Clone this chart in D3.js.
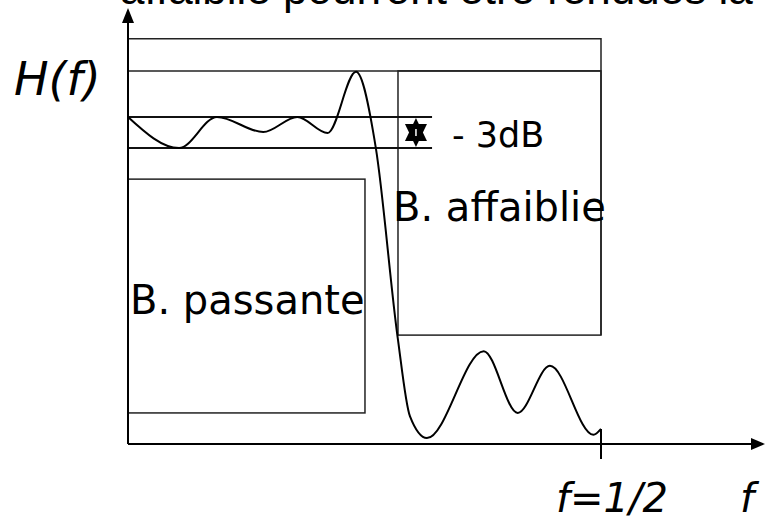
<!DOCTYPE html>
<html>
<head>
<meta charset="utf-8">
<script src="https://cdn.jsdelivr.net/npm/d3@7"></script>
<style>
  html, body { margin: 0; padding: 0; background: #fff; }
  svg text { font-family: "Comic Sans MS", "DejaVu Sans", sans-serif; fill: #000; }
</style>
</head>
<body>
<svg id="chart"></svg>
<script>
// Frequency response |H(f)| (passband level = 1)
const freq = [0, 0.054, 0.094, 0.143, 0.179, 0.211, 0.241,
              0.262, 0.285, 0.298, 0.316, 0.376, 0.412, 0.446, 0.492, 0.5];
const gain = [1.0, 0.905, 1.0, 0.954, 1.0, 0.951, 1.138,
              0.905, 0.327, 0.085, 0.018, 0.284, 0.095, 0.239, 0.028, 0.046];

// Template levels
const rippleLevels = [1.0, 0.905];      // -3dB ripple band
const peakLevel = 1.141;                // top of stopband template
const frameTop = 1.239;
const passBand = {f: [0, 0.2505], g: [0.095, 0.81]};
const stopBand = {f: [0.2854, 0.5], g: [0.333, 1.141]};
const rippleEnd = 0.3214;
const markerF = 0.3044;

const labels = {
  title: "affaiblie pourront être rendues la",
  yAxis: "H(f)",
  xAxis: "f",
  nyquist: "f=1/2",
  ripple: "- 3dB",
  pass: "B. passante",
  stop: "B. affaiblie"
};

const width = 765, height = 521;
const svg = d3.select("#chart").attr("width", width).attr("height", height);

const x = d3.scaleLinear().domain([0, 0.5]).range([128, 601]);
const y = d3.scaleLinear().domain([0, 1]).range([444, 117]);

// Title fragment cut at the top
svg.append("text")
  .attr("x", 120).attr("y", 4)
  .style("font-family", "'Liberation Sans', Arial, sans-serif")
  .style("font-size", "44px")
  .text(labels.title);

const frame = svg.append("g").attr("fill", "none").attr("stroke", "#222").attr("stroke-width", 1.5);

// outer frame top + right side
frame.append("path")
  .attr("d", `M${x(0)},${y(frameTop)}H${x(0.5)}V${y(stopBand.g[0])}`);
// peak level line
frame.append("line")
  .attr("x1", x(0)).attr("x2", x(0.5))
  .attr("y1", y(peakLevel)).attr("y2", y(peakLevel));
// stopband box
frame.append("rect")
  .attr("x", x(stopBand.f[0])).attr("y", y(stopBand.g[1]))
  .attr("width", x(stopBand.f[1]) - x(stopBand.f[0]))
  .attr("height", y(stopBand.g[0]) - y(stopBand.g[1]));
// passband box
frame.append("rect")
  .attr("x", x(passBand.f[0])).attr("y", y(passBand.g[1]))
  .attr("width", x(passBand.f[1]) - x(passBand.f[0]))
  .attr("height", y(passBand.g[0]) - y(passBand.g[1]));

// ripple band lines
svg.selectAll(".ripple")
  .data(rippleLevels)
  .enter().append("line")
  .attr("class", "ripple")
  .attr("x1", x(0)).attr("x2", x(rippleEnd))
  .attr("y1", d => y(d)).attr("y2", d => y(d))
  .attr("stroke", "#111").attr("stroke-width", 2);

// -3dB marker (double arrow)
const mx = x(markerF), mTop = y(rippleLevels[0]) + 1, mBot = y(rippleLevels[1]) - 1;
svg.append("path")
  .attr("d", `M${mx},${mTop}L${mx - 11},${mTop + 23}L${mx + 11},${mTop + 23}Z`)
  .attr("fill", "#000");
svg.append("path")
  .attr("d", `M${mx},${mBot}L${mx - 11},${mBot - 23}L${mx + 11},${mBot - 23}Z`)
  .attr("fill", "#000");
svg.append("line")
  .attr("x1", mx).attr("x2", mx).attr("y1", mTop + 11).attr("y2", mBot - 11)
  .attr("stroke", "#fff").attr("stroke-width", 1.5);

// axes
const axes = svg.append("g").attr("stroke", "#000").attr("stroke-width", 2);
axes.append("line").attr("x1", x(0)).attr("x2", x(0)).attr("y1", y(0)).attr("y2", 20);
axes.append("line").attr("x1", x(0)).attr("x2", 755).attr("y1", y(0)).attr("y2", y(0));
axes.append("line").attr("x1", x(0.5)).attr("x2", x(0.5)).attr("y1", y(0) - 15).attr("y2", y(0) + 15);
svg.append("path")
  .attr("d", `M${x(0)},8L${x(0) - 6},23L${x(0) + 6},23Z`).attr("fill", "#000");
svg.append("path")
  .attr("d", `M765,${y(0)}L751,${y(0) - 6}L751,${y(0) + 6}Z`).attr("fill", "#000");

// response curve
const line = d3.line()
  .x((d, i) => x(freq[i]))
  .y(d => y(d))
  .curve(d3.curveMonotoneX);
svg.append("path")
  .datum(gain)
  .attr("d", line)
  .attr("fill", "none")
  .attr("stroke", "#000")
  .attr("stroke-width", 2);

// labels
svg.append("text").attr("x", 14).attr("y", 95)
  .style("font-size", "46px").style("font-style", "italic").text(labels.yAxis);
svg.append("text").attr("x", 452).attr("y", 147)
  .style("font-size", "35px").text(labels.ripple);
svg.append("text").attr("x", 393).attr("y", 221)
  .style("font-size", "40px").text(labels.stop);
svg.append("text").attr("x", 130).attr("y", 314)
  .style("font-size", "40px").text(labels.pass);
svg.append("text").attr("x", 556).attr("y", 512)
  .style("font-size", "40px").style("font-style", "italic").text(labels.nyquist);
svg.append("text").attr("x", 740).attr("y", 512)
  .style("font-size", "40px").style("font-style", "italic").text(labels.xAxis);
</script>
</body>
</html>
